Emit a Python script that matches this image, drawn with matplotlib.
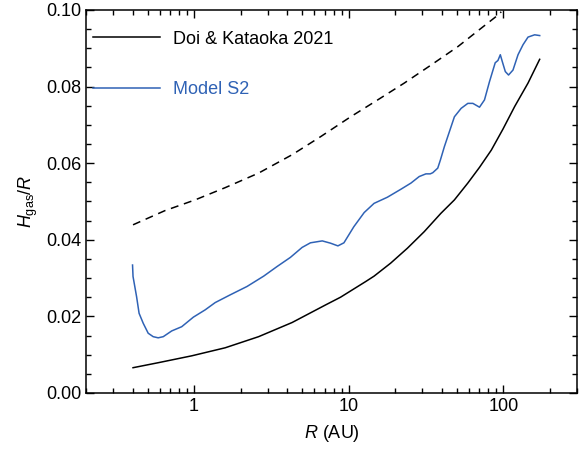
import numpy as np
import matplotlib
matplotlib.use('Agg')
import matplotlib.pyplot as plt
from matplotlib.ticker import LogLocator, MultipleLocator, FixedLocator, FixedFormatter, NullFormatter

plt.rcParams['font.family'] = 'Liberation Sans'
plt.rcParams['mathtext.fontset'] = 'custom'
plt.rcParams['mathtext.rm'] = 'Liberation Sans'
plt.rcParams['mathtext.it'] = 'Liberation Sans:italic'

# Doi & Kataoka 2021 (solid)
r_doi = [0.403, 0.586, 0.966, 1.59, 2.615, 4.31, 7.1, 8.86, 12.9, 14.6, 18.7, 24.0, 30.8,
         39.5, 48.3, 59.0, 70.2, 83.7, 99.6, 118.6, 144.6, 172.0]
h_doi = [0.0066, 0.0079, 0.0097, 0.0118, 0.0147, 0.0184, 0.0230, 0.0250, 0.0291, 0.0305,
         0.0339, 0.0378, 0.0421, 0.0469, 0.0504, 0.0548, 0.0589, 0.0634, 0.0689, 0.0748,
         0.0809, 0.0871]

# dashed curve
r_dash = [0.403, 0.648, 1.015, 1.59, 2.615, 4.31, 6.58, 10.3, 15.4, 22.9, 34.1, 50.8, 71.9,
          90.1, 97.1]
h_dash = [0.0439, 0.0476, 0.0504, 0.0536, 0.0574, 0.0622, 0.0669, 0.0721, 0.0765, 0.0809,
          0.0856, 0.0904, 0.0952, 0.0983, 0.0995]

# Model S2
r_s2 = [0.400, 0.403, 0.425, 0.441, 0.469, 0.505, 0.544, 0.586, 0.632, 0.717, 0.832, 0.99,
        1.18, 1.37, 1.71, 2.20, 2.82, 3.44, 4.20, 5.00, 5.66, 6.75, 7.64, 8.52, 9.32, 10.8,
        12.6, 14.6, 17.8, 21.8, 25.3, 28.6, 31.6, 33.7, 35.0, 37.7, 39.2, 41.6, 48.3, 53.4,
        59.0, 63.6, 70.2, 75.6, 81.5, 88.7, 92.4, 95.7, 98.6, 103.1, 108.2, 115.6, 124.6,
        134.2, 144.6, 159.6, 172.1]
h_s2 = [0.0334, 0.0304, 0.0251, 0.0208, 0.0182, 0.0156, 0.0147, 0.0144, 0.0147, 0.0162,
        0.0173, 0.0198, 0.0217, 0.0236, 0.0256, 0.0278, 0.0305, 0.0330, 0.0354, 0.0380,
        0.0392, 0.0397, 0.0391, 0.0384, 0.0392, 0.0434, 0.0471, 0.0495, 0.0511, 0.0532,
        0.0548, 0.0565, 0.0572, 0.0572, 0.0575, 0.0587, 0.0608, 0.0643, 0.0721, 0.0743,
        0.0756, 0.0756, 0.0746, 0.0765, 0.0813, 0.0862, 0.0868, 0.0883, 0.0865, 0.0839,
        0.0830, 0.0843, 0.0883, 0.0909, 0.0929, 0.0935, 0.0933]

fig = plt.figure(figsize=(5.87, 4.5), dpi=100)
ax = fig.add_axes([0.1465, 0.1267, 0.983 - 0.1465, 0.978 - 0.1267])

ax.plot(r_doi, h_doi, color='black', lw=1.1, label='Doi & Kataoka 2021')
ax.plot(r_s2, h_s2, color='#2f62b5', lw=1.1, label='Model S2')
ax.plot(r_dash, h_dash, color='black', lw=1.1, linestyle=(0, (5.2, 3.8)))

ax.set_xscale('log')
ax.set_xlim(0.2, 300)
ax.set_ylim(0, 0.10)
ax.xaxis.set_major_locator(FixedLocator([1, 10, 100]))
ax.xaxis.set_major_formatter(FixedFormatter(['1', '10', '100']))
ax.xaxis.set_minor_locator(LogLocator(base=10, subs=np.arange(2, 10)))
ax.xaxis.set_minor_formatter(NullFormatter())
ax.yaxis.set_major_locator(MultipleLocator(0.02))
ax.yaxis.set_minor_locator(MultipleLocator(0.005))
ax.yaxis.set_major_formatter(plt.FuncFormatter(lambda v, p: '%.2f' % v))

ax.tick_params(which='both', direction='in', top=True, right=True, labelsize=13, width=1.0)
ax.tick_params(which='major', length=6)
ax.tick_params(which='minor', length=3.5)
for s in ax.spines.values():
    s.set_linewidth(1.1)

ax.set_xlabel(r'$R$ (AU)', fontsize=13, labelpad=6)
ax.set_ylabel(r'$H_{\mathrm{gas}}/R$', fontsize=13, labelpad=4)

ax.legend(loc='upper left', bbox_to_anchor=(0.0, 0.965), frameon=False, fontsize=13,
          handlelength=3.7, handletextpad=0.7, labelspacing=1.86, labelcolor='linecolor',
          borderaxespad=0, borderpad=0.4)

fig.savefig('out.png', dpi=100)
